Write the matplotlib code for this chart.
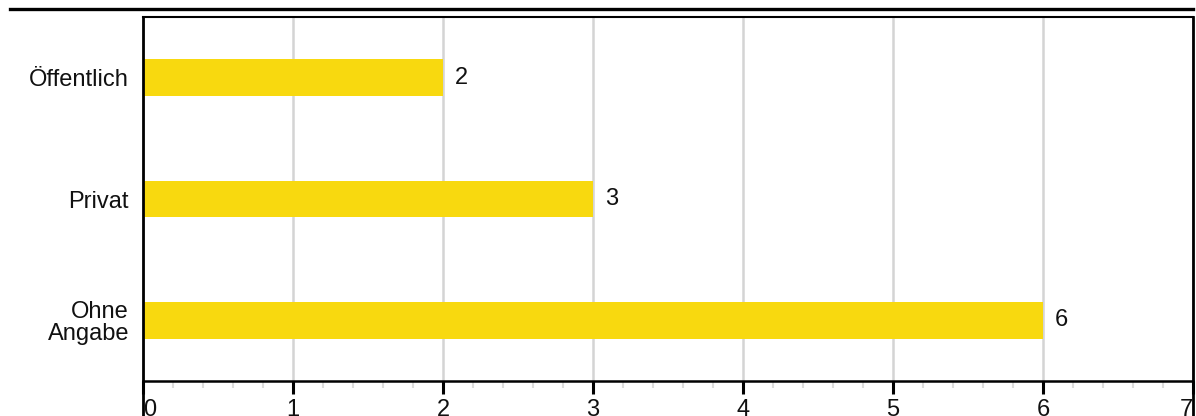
import matplotlib.pyplot as plt
from matplotlib.lines import Line2D
from matplotlib.ticker import MultipleLocator

plt.rcParams['font.family'] = ['Liberation Sans', 'DejaVu Sans']

categories = ["Öffentlich", "Privat", "Ohne\nAngabe"]
values = [2, 3, 6]
xticks = [0, 1, 2, 3, 4, 5, 6, 7]
bar_color = "#F8D90F"

fig = plt.figure(figsize=(11.96, 4.16), dpi=100)
ax = fig.add_axes([143 / 1196, 35 / 416, 1050 / 1196, 364 / 416])

ypos = list(range(len(categories)))
ax.barh(ypos, values, height=0.3, color=bar_color, zorder=3)
for y, v in zip(ypos, values):
    ax.text(v + 0.08, y, str(v), va="center", ha="left", fontsize=17, color="#111111")

ax.set_xlim(0, 7)
ax.set_ylim(2.5, -0.5)
ax.set_yticks(ypos)
ax.set_yticklabels(categories, fontsize=17, color="#111111", linespacing=1.0)
ax.tick_params(axis="y", length=0, pad=10)

ax.set_xticks(xticks)
ax.set_xticklabels([str(t) for t in xticks])
ax.xaxis.set_minor_locator(MultipleLocator(0.2))
ax.tick_params(axis="x", which="major", length=9, width=2.2, color="black", labelsize=17,
               labelcolor="#111111", pad=4)
ax.tick_params(axis="x", which="minor", length=5, width=1.5, color="#dddddd")
labels = ax.get_xticklabels()
labels[0].set_horizontalalignment("left")
labels[-1].set_horizontalalignment("right")

ax.grid(axis="x", which="major", color="#d4d4d4", linewidth=1.8, zorder=0)

for side in ["left", "right"]:
    ax.spines[side].set_visible(False)
ax.spines["top"].set_linewidth(1.5)
ax.spines["bottom"].set_linewidth(1.8)

# side borders run past the x axis to the bottom edge
for x in (0, 1):
    ax.add_line(Line2D([x, x], [-0.12, 1], transform=ax.transAxes, color="black",
                       linewidth=2, clip_on=False, zorder=5))

# heavy rule along the top
fig.add_artist(Line2D([10 / 1196, 1193 / 1196], [1 - 8.5 / 416] * 2, color="black",
                      linewidth=2.4))

fig.savefig("out.png", dpi=100)
